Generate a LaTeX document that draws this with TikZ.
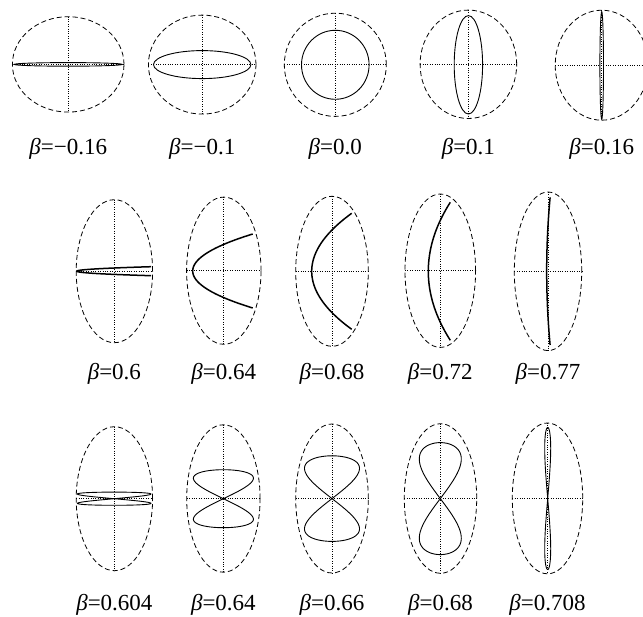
\documentclass[tikz,border=0pt]{standalone}
\usepackage{fontspec}
\setmainfont{Liberation Serif}
\newcommand\panelframe[4]{%
  \draw[outl] (#1,#2) ellipse [x radius=#3pt, y radius=#4pt];
  \draw[axisl] ({#1-#3},#2) -- ({#1+#3},#2);
  \draw[axisl] (#1,{#2-#4}) -- (#1,{#2+#4});
}
\begin{document}
\begin{tikzpicture}[x=1pt,y=-1pt,
  outl/.style={line width=0.8pt, dash pattern=on 5pt off 3pt},
  axisl/.style={line width=0.8pt, dash pattern=on 1pt off 1.4pt},
  curve/.style={line width=0.9pt},
  thickcurve/.style={line width=1.5pt},
  lab/.style={anchor=base, inner sep=0pt, font=\fontsize{23}{27}\selectfont}]
\useasboundingbox (0,0) rectangle (643,617);
% ---------- row 1 ----------
\panelframe{68.2}{64.4}{55.8}{47.7}
\draw[curve] (68.2,64.4) ellipse [x radius=54pt, y radius=1.8pt];
\panelframe{202.2}{64.6}{53.8}{49.5}
\draw[curve] (202.2,64.6) ellipse [x radius=48.7pt, y radius=14pt];
\panelframe{335.3}{64.8}{51}{51.6}
\draw[curve] (335.3,64.8) ellipse [x radius=33.8pt, y radius=34.5pt];
\panelframe{468.4}{64.3}{48.3}{54.2}
\draw[curve] (468.4,64.8) ellipse [x radius=14.2pt, y radius=49.2pt];
\panelframe{601.7}{65.2}{46.5}{55}
\draw[curve] (601.7,65.5) ellipse [x radius=1.8pt, y radius=53.8pt];
\node[lab] (a1) at (68.2,154.5) {\textit{β}=−0.16};
\node[lab] (a2) at (202.2,154.5) {\textit{β}=−0.1};
\node[lab] (a3) at (335.3,154.5) {\textit{β}=0.0};
\node[lab] (a4) at (468.4,154.5) {\textit{β}=0.1};
\node[lab] (a5) at (601.7,154.5) {\textit{β}=0.16};
% ---------- row 2 ----------
\panelframe{114.4}{271.2}{38.2}{71.5}
\draw[thickcurve] plot[domain=-90:90, samples=60, smooth] ({113.9-37.2*cos(2*\x)}, {271.2+4.5*sin(\x)});
\panelframe{223.8}{270.7}{37.2}{73.6}
\draw[thickcurve] plot[domain=-90:90, samples=60, smooth] ({222.7-30*cos(2*\x)}, {271+37*sin(\x)});
\panelframe{332}{271.3}{36.3}{75}
\draw[thickcurve] plot[domain=-90:90, samples=60, smooth] ({331.7-20*cos(2*\x)}, {271.3+58*sin(\x)});
\panelframe{440.3}{270.7}{35.3}{76.7}
\draw[thickcurve] plot[domain=-90:90, samples=60, smooth] ({439.3-11*cos(2*\x)}, {271.3+69*sin(\x)});
\panelframe{548}{271.3}{33.7}{79.3}
\draw[thickcurve] plot[domain=-90:90, samples=60, smooth] ({548.4-1.7*cos(2*\x)}, {271.2+73.8*sin(\x)});
\node[lab] (b1) at (114.4,380) {\textit{β}=0.6};
\node[lab] (b2) at (223.8,380) {\textit{β}=0.64};
\node[lab] (b3) at (332,380) {\textit{β}=0.68};
\node[lab] (b4) at (440.3,380) {\textit{β}=0.72};
\node[lab] (b5) at (548,380) {\textit{β}=0.77};
% ---------- row 3 ----------
\panelframe{114.4}{498.7}{38.2}{72}
\draw[curve] plot[domain=0:360, samples=200, smooth] ({114.2+36.8*sin(2*\x)}, {498.7+6.6*sin(\x)});
\panelframe{223.4}{498.5}{36.7}{73.7}
\draw[curve] plot[domain=0:360, samples=200, smooth] ({223.4+30*sin(2*\x)}, {498.7+29*sin(\x)});
\panelframe{332}{498.5}{36.3}{74.5}
\draw[curve] plot[domain=0:360, samples=200, smooth] ({332+27.5*sin(2*\x)}, {498.6+42.8*sin(\x)});
\panelframe{440.5}{498.5}{36.2}{74.8}
\draw[curve] plot[domain=0:360, samples=200, smooth] ({440.3+21*sin(2*\x)}, {498.6+56*sin(\x)});
\panelframe{547.5}{498.4}{35.2}{75.4}
\draw[curve] plot[domain=0:360, samples=200, smooth] ({547.7+3*sin(2*\x)}, {498.5+71*sin(\x)});
\node[lab] (c1) at (114.4,610) {\textit{β}=0.604};
\node[lab] (c2) at (223.4,610) {\textit{β}=0.64};
\node[lab] (c3) at (332,610) {\textit{β}=0.66};
\node[lab] (c4) at (440.5,610) {\textit{β}=0.68};
\node[lab] (c5) at (547.5,610) {\textit{β}=0.708};
\end{tikzpicture}
\end{document}
